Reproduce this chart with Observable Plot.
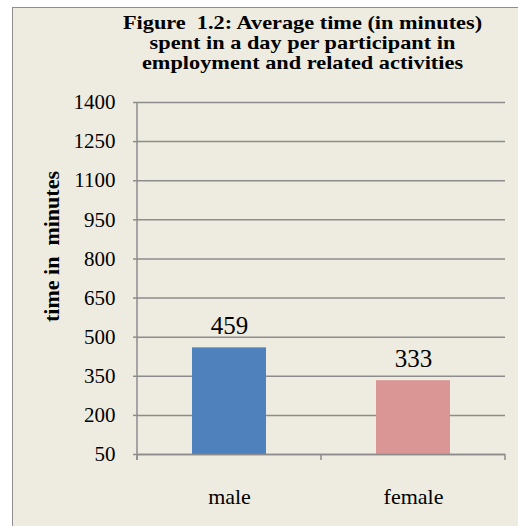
<!DOCTYPE html>
<html>
<head>
<meta charset="utf-8">
<script src="https://cdn.jsdelivr.net/npm/d3@7"></script>
<script src="https://cdn.jsdelivr.net/npm/@observablehq/plot@0.6"></script>
<style>
  html, body { margin: 0; padding: 0; background: #ffffff; }
  #wrap { position: relative; width: 518px; height: 526px; overflow: hidden; }
  #panel { position: absolute; left: 12px; top: 7px; width: 600px; height: 600px;
           background: #EEECE1; border: 1.5px solid #8E8E8E; box-sizing: border-box; }
  #chart { position: absolute; left: 0; top: 0; }
</style>
</head>
<body>
<div id="wrap"><div id="panel"></div><div id="chart"></div></div>
<script>
const categories = ["male", "female"];
const values = [459, 333];
const barColors = ["#4F81BD", "#D99694"];
const yTicks = [50, 200, 350, 500, 650, 800, 950, 1100, 1250, 1400];
const titleText = "Figure  1.2: Average time (in minutes)\nspent in a day per participant in\nemployment and related activities";
const yLabel = "time in  minutes";

const data = categories.map((c, i) => ({cat: c, value: values[i], color: barColors[i]}));
const yMin = yTicks[0];
const yMax = yTicks[yTicks.length - 1];
const grey = "#8C8C8C";

const edgeTicks = (index, scales, vals, dims) => {
  const g = d3.create("svg:g").attr("stroke", grey).attr("stroke-width", 1.5).attr("fill", "none");
  const x0 = dims.marginLeft, y0 = dims.marginTop, yb = dims.height - dims.marginBottom;
  const w = dims.width - dims.marginLeft - dims.marginRight;
  g.append("line").attr("x1", x0).attr("x2", x0).attr("y1", y0).attr("y2", yb + 6);
  for (let i = 0; i <= categories.length; i++) {
    const xx = x0 + i * w / categories.length;
    g.append("line").attr("x1", xx).attr("x2", xx).attr("y1", yb).attr("y2", yb + 6);
  }
  return g.node();
};

const chart = Plot.plot({
  width: 518,
  height: 526,
  marginTop: 102,
  marginLeft: 137,
  marginRight: 13,
  marginBottom: 72,
  style: {background: "transparent", fontFamily: "'Liberation Serif', 'Times New Roman', serif", color: "black"},
  x: {domain: categories, paddingInner: 0.6, paddingOuter: 0.3},
  y: {domain: [yMin, yMax]},
  marks: [
    Plot.ruleY(yTicks, {stroke: grey, strokeWidth: 1.5}),
    Plot.barY(data, {x: "cat", y1: yMin, y2: "value", fill: "color"}),
    Plot.ruleY([yMin], {stroke: grey, strokeWidth: 1.5}),
    edgeTicks,
    Plot.axisY({ticks: yTicks, tickSize: 4, tickPadding: 18, stroke: grey, strokeWidth: 1.5, fill: "black", fontSize: 21, label: null, tickFormat: d => String(d)}),
    Plot.axisX({tickSize: 0, tickPadding: 34, fontSize: 22, label: null, fill: "black"}),
    Plot.text(data, {x: "cat", y: "value", text: d => String(d.value), lineAnchor: "bottom", dy: -14, fontSize: 25, fill: "black"}),
    Plot.text([titleText], {frameAnchor: "top", dx: -19, dy: -60, textAnchor: "middle", lineAnchor: "middle", lineHeight: 1.12, fontSize: 18, fontWeight: "bold", fill: "black"}),
    Plot.text([yLabel], {frameAnchor: "left", dx: -86, dy: -32, rotate: -90, textAnchor: "middle", fontSize: 22, fontWeight: "bold", fill: "black"})
  ]
});
document.getElementById("chart").appendChild(chart);

// Stretch the title horizontally, like the reference's wide bold title
const titleNode = Array.from(chart.querySelectorAll("text")).find(t => t.textContent.startsWith("Figure"));
if (titleNode) {
  const markGroup = titleNode.closest("g");
  const bb = markGroup.getBBox();
  const ctm = markGroup.getCTM();
  const cx = bb.x + bb.width / 2 + (markGroup.transform.baseVal.consolidate() ? markGroup.transform.baseVal.consolidate().matrix.e : 0);
  const wrapper = document.createElementNS("http://www.w3.org/2000/svg", "g");
  markGroup.parentNode.insertBefore(wrapper, markGroup);
  wrapper.appendChild(markGroup);
  wrapper.setAttribute("transform", `translate(${cx},0) scale(1.24,1) translate(${-cx},0)`);
}
</script>
</body>
</html>
